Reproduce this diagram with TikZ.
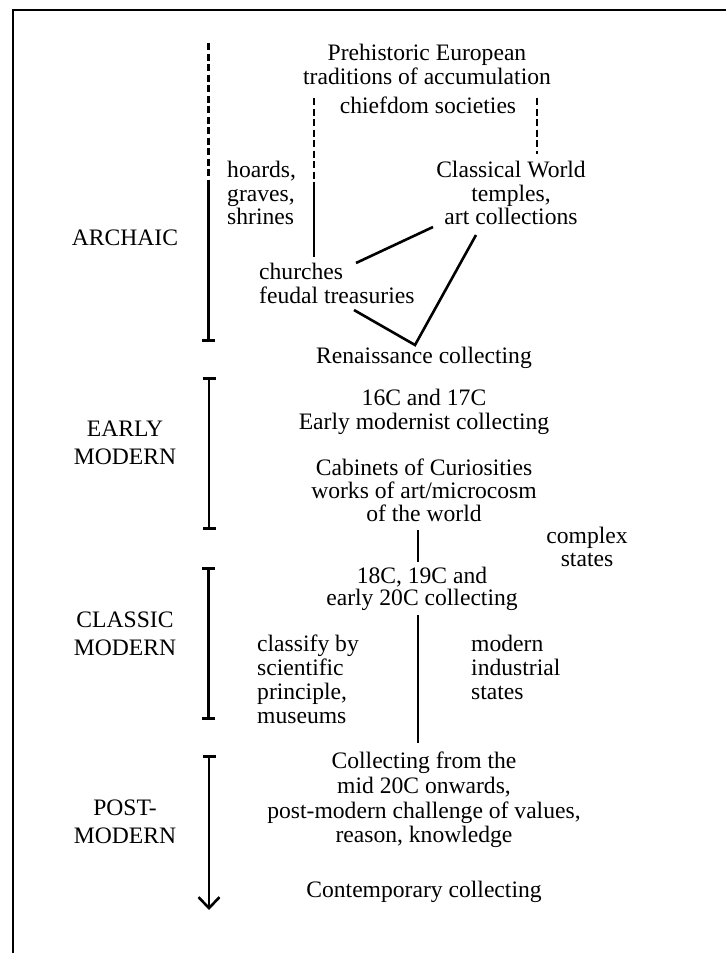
\documentclass[tikz,border=0pt]{standalone}
\usepackage{fontspec}
\setmainfont{Liberation Serif}
\usetikzlibrary{arrows.meta}
\begin{document}
\begin{tikzpicture}[x=1pt,y=-1pt,
  txt/.style={inner sep=0pt,align=center,font=\fontsize{23.6}{24}\selectfont},
  ltxt/.style={inner sep=0pt,align=left,anchor=west,font=\fontsize{23.6}{23.5}\selectfont},
  era/.style={inner sep=0pt,align=center,font=\fontsize{23.6}{28}\selectfont},
  tline/.style={line width=2.6pt},
  dline/.style={line width=2.6pt,dash pattern=on 7pt off 3.5pt},
  conn/.style={line width=2.6pt}]
\useasboundingbox (0,0) rectangle (726,953);
\draw[line width=2pt] (12.5,953) -- (12.5,10) -- (726,10);
% texts
\node[txt] (prehist) at (427,64) {Prehistoric European\\traditions of accumulation};
\node[txt] (chief) at (428,105) {chiefdom societies};
\node[ltxt] (hoards) at (227,193) {hoards,\\graves,\\shrines};
\node[txt,font=\fontsize{23.6}{23.5}\selectfont] (classical) at (511,193) {Classical World\\temples,\\art collections};
\node[era] (archaic) at (125,238) {ARCHAIC};
\node[ltxt] (churches) at (259,283.5) {churches\\feudal treasuries};
\node[txt] (renais) at (424,358) {Renaissance collecting};
\node[era] (early) at (125,442.5) {EARLY\\MODERN};
\node[txt] (sixteen) at (424,412) {16C and 17C\\Early modernist collecting};
\node[txt,font=\fontsize{23.6}{23}\selectfont] (cabinets) at (424,490) {Cabinets of Curiosities\\works of art/microcosm\\of the world};
\node[txt,font=\fontsize{23.6}{23}\selectfont] (complex) at (587,546.5) {complex\\states};
\node[txt,font=\fontsize{23.6}{22}\selectfont] (eighteen) at (422,589) {18C, 19C and\\early 20C collecting};
\node[era] (classic) at (125,634) {CLASSIC\\MODERN};
\node[ltxt,font=\fontsize{23.6}{24}\selectfont] (classify) at (257,679) {classify by\\scientific\\principle,\\museums};
\node[ltxt,font=\fontsize{23.6}{24}\selectfont] (industrial) at (471,667) {modern\\industrial\\states};
\node[era] (post) at (125,821.5) {POST-\\MODERN};
\node[txt,font=\fontsize{23.6}{24.7}\selectfont] (collecting) at (424,800) {Collecting from the\\mid 20C onwards,\\post-modern challenge of values,\\reason, knowledge};
\node[txt] (contemp) at (424,892) {Contemporary collecting};
% timeline coordinates
\coordinate (tA) at (208.5,43);
\coordinate (tB) at (208.5,185);
\coordinate (tC) at (208.5,342);
\coordinate (tD) at (209,377);
\coordinate (tE) at (209,530);
\coordinate (tF) at (208.5,567);
\coordinate (tG) at (208.5,720);
\coordinate (tH) at (209,755);
\coordinate (tI) at (209,910);
\draw[dline] (tA) -- (tB);
\draw[tline,-{Bar[width=13pt]}] (tB) -- (tC);
\draw[tline,{Bar[width=13pt]}-{Bar[width=13pt]}] (tD) -- (tE);
\draw[tline,{Bar[width=13pt]}-{Bar[width=13pt]}] (tF) -- (tG);
\draw[tline,{Bar[width=13pt]}-{Straight Barb[length=11pt,width=21pt,line width=2.6pt]}] (tH) -- (tI);
% connectors
\coordinate (d1a) at (314,98);
\coordinate (d1b) at (314,186);
\coordinate (d1c) at (314,257);
\draw[dline] (d1a) -- (d1b);
\draw[conn] (d1b) -- (d1c);
\coordinate (d2a) at (537,98);
\coordinate (d2b) at (537,154);
\draw[dline] (d2a) -- (d2b);
\coordinate (ch1) at (356,263);
\coordinate (ar1) at (433,227);
\draw[conn] (ch1) -- (ar1);
\coordinate (ar2) at (476,235);
\coordinate (apex) at (415,345);
\coordinate (ch2) at (354,310);
\draw[conn,line join=miter] (ar2) -- (apex) -- (ch2);
\coordinate (cb1) at (418,530);
\coordinate (cb2) at (418,562);
\draw[conn] (cb1) -- (cb2);
\coordinate (ei1) at (418,615);
\coordinate (ei2) at (418,743);
\draw[conn] (ei1) -- (ei2);
\end{tikzpicture}
\end{document}
